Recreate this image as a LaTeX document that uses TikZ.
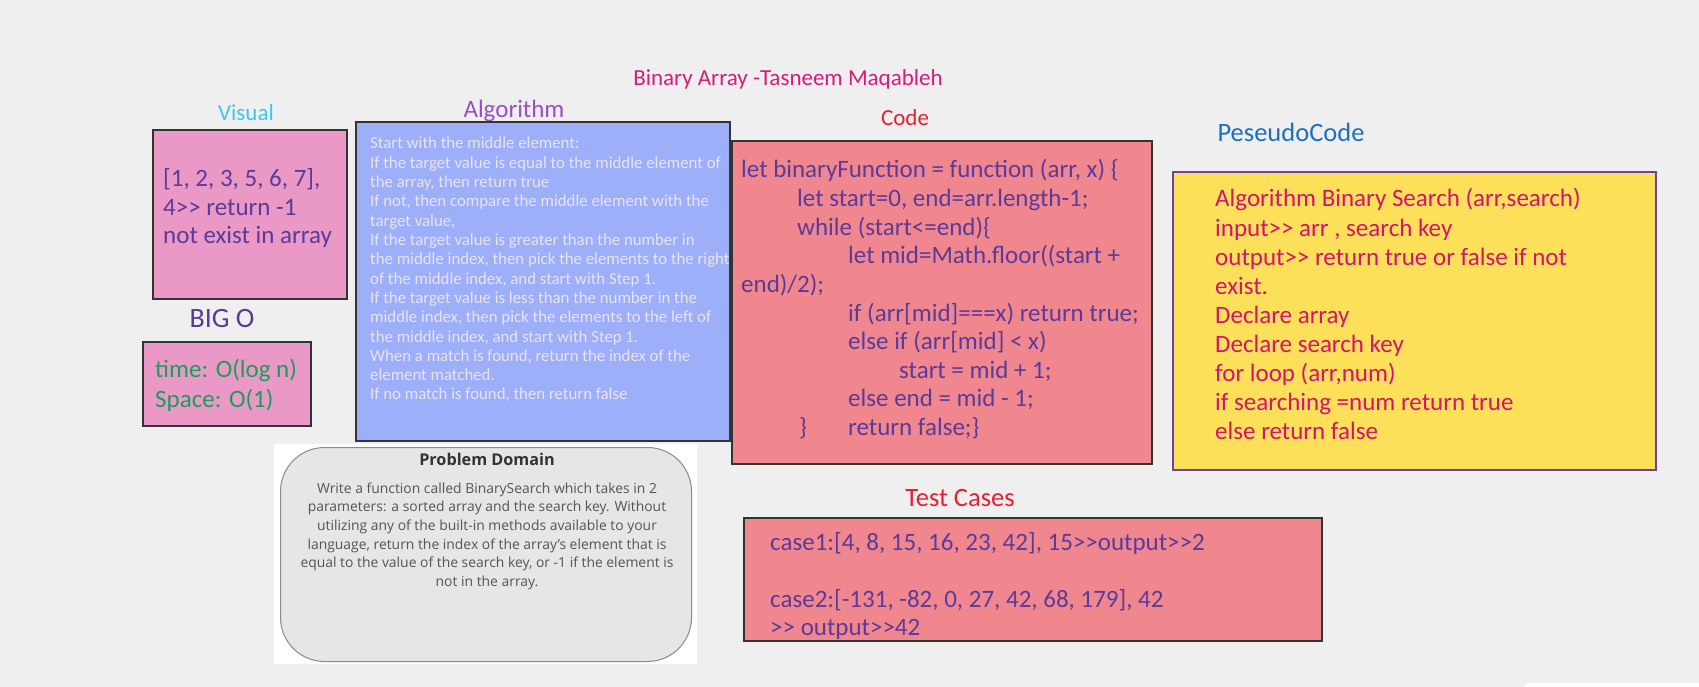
\documentclass[tikz,border=0pt]{standalone}
\usepackage{fontspec}
\setmainfont{Carlito}
\newfontfamily\hand{Carlito}
\newfontfamily\osans{Open Sans}
\definecolor{bg}{HTML}{EFEFEF}
\definecolor{pinkv}{HTML}{EA99C6}
\definecolor{pinkc}{HTML}{F0878F}
\definecolor{algo}{HTML}{9EAFFA}
\definecolor{yell}{HTML}{FDE05A}
\definecolor{txtpur}{HTML}{5C3A99}
\definecolor{algtxt}{HTML}{E8E4F4}
\definecolor{ttlmag}{HTML}{D81B7A}
\definecolor{ttlcyan}{HTML}{3EC6F0}
\definecolor{ttlpur}{HTML}{9B4FC4}
\definecolor{ttlred}{HTML}{E8202F}
\definecolor{ttlblue}{HTML}{1D6FC4}
\definecolor{bigo}{HTML}{5A3A96}
\definecolor{pstxt}{HTML}{D6136D}
\definecolor{green}{HTML}{1A9D5A}
\definecolor{boxline}{HTML}{333333}
\definecolor{psline}{HTML}{6B42A5}
\definecolor{pdfill}{HTML}{E6E6E6}
\definecolor{pdline}{HTML}{8A8A8A}
\definecolor{pdtxt}{HTML}{555555}
\definecolor{pdttl}{HTML}{333333}
\tikzset{
  panel/.style={draw=boxline, line width=1.5pt, anchor=north west, inner sep=0pt, outer sep=0pt},
  ttl/.style={anchor=base, inner sep=0pt, font=\hand\fontsize{23}{26}\selectfont},
  ln/.style={anchor=base west, inner sep=0pt, font=\hand\fontsize{25}{28}\selectfont},
  aln/.style={anchor=base west, inner sep=0pt, text=algtxt, font=\hand\fontsize{16.8}{19}\selectfont},
  pdl/.style={anchor=base, inner sep=0pt, text=pdtxt, font=\osans\fontsize{13.9}{16}\selectfont},
}
\begin{document}
\begin{tikzpicture}[x=1pt,y=-1pt]
\useasboundingbox (0,0) rectangle (1699,687);
\fill[bg] (0,0) rectangle (1699,687);

% title
\node[ttl, text=ttlmag] (title) at (788,86) {Binary Array -Tasneem Maqableh};

% headings
\node[ttl, text=ttlcyan] (hvis) at (246,121) {Visual};
\node[ttl, text=ttlpur, font=\hand\fontsize{25}{28}\selectfont] (halg) at (514,118) {Algorithm};
\node[ttl, text=ttlred] (hcode) at (905,126) {Code};
\node[ttl, text=ttlblue, font=\hand\fontsize{26.5}{30}\selectfont] (hps) at (1291,142) {PeseudoCode};
\node[ttl, text=bigo, font=\hand\fontsize{28}{30}\selectfont] (hbig) at (222,327) {BIG O};
\node[ttl, text=ttlred, font=\hand\fontsize{26.5}{30}\selectfont] (htest) at (960,506) {Test Cases};

% panels
\node[panel, fill=pinkv, minimum width=194pt, minimum height=169pt] (visual) at (153,130) {};
\node[panel, fill=pinkv, minimum width=168pt, minimum height=84pt] (bigobox) at (143,342) {};
\node[panel, fill=algo, minimum width=374pt, minimum height=319pt] (algbox) at (356,122) {};
\node[panel, fill=pinkc, minimum width=420pt, minimum height=323pt] (codebox) at (732,141) {};
\node[panel, draw=psline, fill=yell, minimum width=483pt, minimum height=298pt] (psbox) at (1173,172) {};
\node[panel, fill=pinkc, minimum width=578pt, minimum height=123pt] (testbox) at (744,518) {};

% problem domain
\node[anchor=north west, inner sep=0pt, fill=white, minimum width=423pt, minimum height=220pt] (pdbg) at (274,444) {};
\node[anchor=north west, inner sep=0pt, fill=pdfill, draw=pdline, line width=1pt, rounded corners=44pt, minimum width=411pt, minimum height=214pt] (pdbox) at (280,447) {};
\node[anchor=base, inner sep=0pt, text=pdttl, font=\osans\bfseries\fontsize{16.2}{19}\selectfont] (pdt) at (487,465) {Problem Domain};
\node[pdl] (pd1) at (487,493) {Write a function called BinarySearch which takes in 2};
\node[pdl] (pd2) at (487,511.7) {parameters: a sorted array and the search key. Without};
\node[pdl] (pd3) at (487,530.4) {utilizing any of the built-in methods available to your};
\node[pdl] (pd4) at (487,549.1) {language, return the index of the array’s element that is};
\node[pdl] (pd5) at (487,567.8) {equal to the value of the search key, or -1 if the element is};
\node[pdl] (pd6) at (487,586.5) {not in the array.};

% bottom-right white tab
\node[anchor=north west, inner sep=0pt, fill=white, rounded corners=6pt, minimum width=200pt, minimum height=20pt] (tab) at (1523,683) {};

% visual text
\node[ln, text=txtpur] (v1) at (163,186) {[1, 2, 3, 5, 6, 7],};
\node[ln, text=txtpur] (v2) at (163,215) {4>> return -1};
\node[ln, text=txtpur] (v3) at (163,243) {not exist in array};

% big o text
\node[ln, text=green] (b1) at (155,377) {time: O(log n)};
\node[ln, text=green] (b2) at (155,407) {Space: O(1)};

% algorithm text
\node[aln] (a1) at (370,149) {Start with the middle element:};
\node[aln] (a2) at (370,168.3) {If the target value is equal to the middle element of};
\node[aln] (a3) at (370,187.6) {the array, then return true};
\node[aln] (a4) at (370,206.9) {If not, then compare the middle element with the};
\node[aln] (a5) at (370,226.2) {target value,};
\node[aln] (a6) at (370,245.5) {If the target value is greater than the number in};
\node[aln] (a7) at (370,264.8) {the middle index, then pick the elements to the right};
\node[aln] (a8) at (370,284.1) {of the middle index, and start with Step 1.};
\node[aln] (a9) at (370,303.4) {If the target value is less than the number in the};
\node[aln] (a10) at (370,322.7) {middle index, then pick the elements to the left of};
\node[aln] (a11) at (370,342) {the middle index, and start with Step 1.};
\node[aln] (a12) at (370,361.3) {When a match is found, return the index of the};
\node[aln] (a13) at (370,380.6) {element matched.};
\node[aln] (a14) at (370,399.9) {If no match is found, then return false};

% code text
\node[ln, text=txtpur] (c1) at (741,178) {let binaryFunction = function (arr, x) \{};
\node[ln, text=txtpur] (c2) at (797,206.6) {let start=0, end=arr.length-1;};
\node[ln, text=txtpur] (c3) at (797,235.2) {while (start<=end)\{};
\node[ln, text=txtpur] (c4) at (848,263.8) {let mid=Math.floor((start +};
\node[ln, text=txtpur] (c5) at (741,292.4) {end)/2);};
\node[ln, text=txtpur] (c6) at (848,321) {if (arr[mid]===x) return true;};
\node[ln, text=txtpur] (c7) at (848,349.6) {else if (arr[mid] < x)};
\node[ln, text=txtpur] (c8) at (899,378.2) {start = mid + 1;};
\node[ln, text=txtpur] (c9) at (848,406.8) {else end = mid - 1;};
\node[ln, text=txtpur] (c10a) at (799,435.4) {\}};
\node[ln, text=txtpur] (c10b) at (848,435.4) {return false;\}};

% pseudocode text
\node[ln, text=pstxt] (p1) at (1215,207) {Algorithm Binary Search (arr,search)};
\node[ln, text=pstxt] (p2) at (1215,236.1) {input>> arr , search key};
\node[ln, text=pstxt] (p3) at (1215,265.2) {output>> return true or false if not};
\node[ln, text=pstxt] (p4) at (1215,294.3) {exist.};
\node[ln, text=pstxt] (p5) at (1215,323.4) {Declare array};
\node[ln, text=pstxt] (p6) at (1215,352.5) {Declare search key};
\node[ln, text=pstxt] (p7) at (1215,381.6) {for loop (arr,num)};
\node[ln, text=pstxt] (p8) at (1215,410.7) {if searching =num return true};
\node[ln, text=pstxt] (p9) at (1215,439.8) {else return false};

% test cases text
\node[ln, text=txtpur] (t1) at (770,550) {case1:[4, 8, 15, 16, 23, 42], 15>>output>>2};
\node[ln, text=txtpur] (t2) at (770,607) {case2:[-131, -82, 0, 27, 42, 68, 179], 42};
\node[ln, text=txtpur] (t3) at (770,635.5) {>> output>>42};
\end{tikzpicture}
\end{document}
